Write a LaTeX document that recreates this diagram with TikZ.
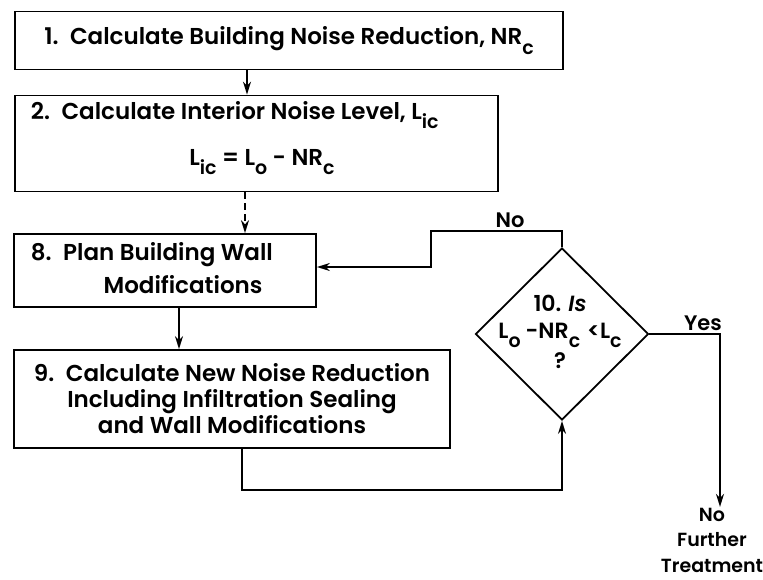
\documentclass[tikz,border=0pt]{standalone}
\usepackage{fontspec}
\setmainfont{Poppins}[BoldFont={* SemiBold}]
\usetikzlibrary{shapes.geometric,arrows.meta}
\newcommand{\sbs}[1]{\raisebox{-0.42em}{\fontsize{19}{19}\selectfont #1}}
\begin{document}
\begin{tikzpicture}[x=1pt,y=-1pt,
  line width=1.8pt,
  box/.style={draw, rectangle, inner sep=0pt, align=center},
  arr/.style={-{Stealth[length=13pt,width=8pt]}},
  lbl/.style={inner sep=0pt, align=center},
  every node/.style={font=\fontsize{23}{26}\selectfont\bfseries}]
\useasboundingbox (0,0) rectangle (763,579);

\node[box, minimum width=548pt, minimum height=58pt] (b1) at (289,40.5)
  {1.\enspace Calculate Building Noise Reduction, NR\sbs{c}};
\node[box, minimum width=483pt, minimum height=96pt] (b2) at (256.5,143.5) {};
\node[lbl, anchor=west] (t2a) at (30,115) {2.\enspace Calculate Interior Noise Level, L\sbs{ic}};
\node[lbl] (t2b) at (262,162) {L\sbs{ic} = L\sbs{o} {-} NR\sbs{c}};
\node[box, minimum width=302pt, minimum height=73pt] (b8) at (165,270.5) {};
\node[lbl, anchor=west] (t8a) at (30,255) {8.\enspace Plan Building Wall};
\node[lbl] (t8b) at (183,285) {Modifications};
\node[box, minimum width=436pt, minimum height=98pt] (b9) at (232,399)
  {9.\enspace Calculate New Noise Reduction\\Including Infiltration Sealing\\and Wall Modifications};
\node[draw, diamond, inner sep=0pt, minimum width=173pt, minimum height=172pt] (d) at (562,334) {};
\node[lbl, font=\fontsize{22}{29}\selectfont\bfseries] (dt) at (560,332) {10. \textit{Is}\\[-2pt]L\sbs{o}\hspace{5pt}-NR\sbs{c}\hspace{7pt}{<}L\sbs{c}\\[1pt]?};
\node[lbl, font=\fontsize{19}{25.5}\selectfont\bfseries] (nft) at (712,540) {No\\Further\\Treatment};
\node[lbl, font=\fontsize{21}{25}\selectfont\bfseries] (lno) at (510,220) {No};
\node[lbl, font=\fontsize{21}{25}\selectfont\bfseries] (lyes) at (703,323) {Yes};

\coordinate (x12) at (247,0);
\coordinate (x28) at (245,0);
\coordinate (x89) at (179,0);
\coordinate (x9) at (242,0);
\coordinate (nB) at (431,231);
\coordinate (nC) at (431,267);
\coordinate (lp) at (0,490);
\coordinate (ye) at (720,0);

\draw[arr] (b1.south -| x12) -- (b2.north -| x12);
\draw[arr, dash pattern=on 7pt off 4pt] (b2.south -| x28) -- (b8.north -| x28);
\draw[arr] (b8.south -| x89) -- (b9.north -| x89);
\draw[arr] (d.north) |- (nB) -- (nC) -- (b8.east |- nC);
\draw[arr] (d.east) -| (ye |- nft.north);
\draw[arr] (b9.south -| x9) -- (x9 |- lp) -| (d.south);
\end{tikzpicture}
\end{document}
